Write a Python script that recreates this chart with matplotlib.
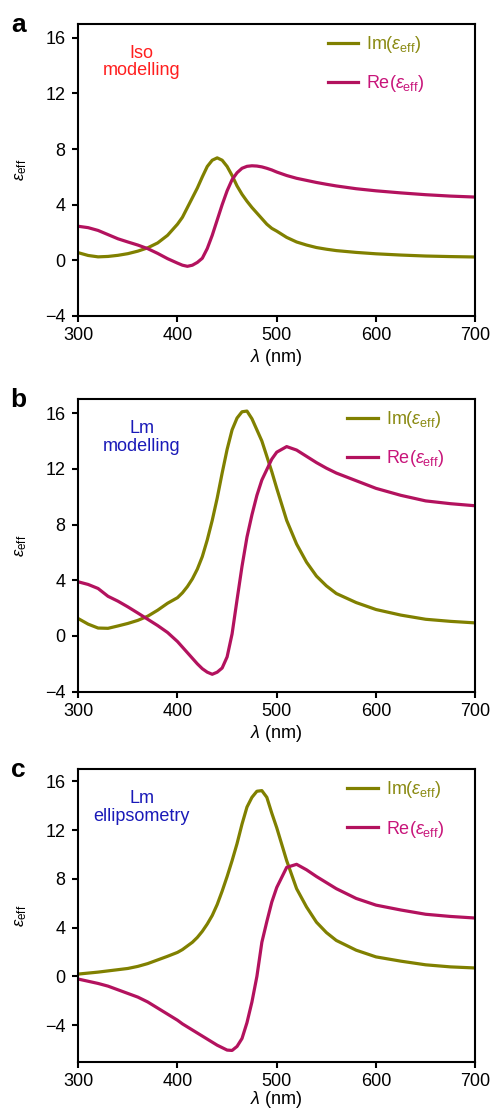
import matplotlib
matplotlib.use("Agg")
import matplotlib.pyplot as plt

plt.rcParams['font.family'] = ['Liberation Sans', 'DejaVu Sans']
plt.rcParams['mathtext.fontset'] = 'custom'
plt.rcParams['mathtext.rm'] = 'Liberation Sans'
plt.rcParams['mathtext.it'] = 'Liberation Sans:italic'
plt.rcParams['mathtext.bf'] = 'Liberation Sans:bold'

# wavelength grid (nm), shared by all panels
wl = [300, 310, 320, 330, 340, 350, 360, 370, 380, 390, 400, 405, 410, 415, 420,
      425, 430, 435, 440, 445, 450, 455, 460, 465, 470, 475, 480, 485, 490, 495,
      500, 510, 520, 530, 540, 550, 560, 580, 600, 625, 650, 675, 700]

# a - Iso modelling
im_a = [0.55, 0.35, 0.25, 0.28, 0.36, 0.48, 0.66, 0.9, 1.25, 1.8, 2.6, 3.1, 3.8, 4.5, 5.2,
        6.0, 6.75, 7.2, 7.37, 7.2, 6.75, 6.1, 5.35, 4.75, 4.25, 3.8, 3.4, 3.0, 2.6, 2.3,
        2.1, 1.65, 1.32, 1.1, 0.92, 0.8, 0.7, 0.57, 0.47, 0.38, 0.31, 0.27, 0.24]
re_a = [2.45, 2.35, 2.15, 1.85, 1.55, 1.32, 1.1, 0.84, 0.5, 0.12, -0.2, -0.35, -0.43, -0.35, -0.15,
        0.15, 0.85, 1.8, 2.9, 4.0, 5.0, 5.8, 6.3, 6.62, 6.76, 6.8, 6.78, 6.72, 6.62, 6.5,
        6.35, 6.1, 5.9, 5.75, 5.6, 5.47, 5.35, 5.15, 5.0, 4.85, 4.72, 4.62, 4.55]

# b - Lm modelling
im_b = [1.25, 0.85, 0.57, 0.55, 0.72, 0.9, 1.12, 1.42, 1.85, 2.35, 2.75, 3.1, 3.55, 4.1, 4.8,
        5.7, 6.9, 8.3, 9.9, 11.7, 13.4, 14.8, 15.65, 16.1, 16.15, 15.6, 14.8, 14.0, 12.9, 11.8,
        10.6, 8.3, 6.6, 5.3, 4.3, 3.6, 3.05, 2.4, 1.9, 1.5, 1.2, 1.05, 0.94]
re_b = [3.89, 3.7, 3.41, 2.85, 2.5, 2.09, 1.65, 1.2, 0.75, 0.25, -0.4, -0.8, -1.2, -1.6, -2.0,
        -2.35, -2.6, -2.75, -2.6, -2.3, -1.5, 0.15, 2.6, 5.0, 7.1, 8.7, 10.1, 11.2, 11.95, 12.7,
        13.2, 13.6, 13.35, 12.9, 12.45, 12.05, 11.7, 11.15, 10.6, 10.1, 9.7, 9.5, 9.35]

# c - Lm ellipsometry
im_c = [0.19, 0.27, 0.35, 0.45, 0.55, 0.65, 0.82, 1.05, 1.35, 1.65, 1.97, 2.2, 2.5, 2.8, 3.2,
        3.7, 4.3, 5.0, 5.9, 7.0, 8.2, 9.5, 10.9, 12.5, 13.9, 14.7, 15.2, 15.25, 14.7, 13.4,
        12.2, 9.5, 7.2, 5.7, 4.45, 3.6, 2.95, 2.15, 1.6, 1.25, 0.95, 0.78, 0.69]
re_c = [-0.22, -0.4, -0.58, -0.8, -1.1, -1.4, -1.7, -2.1, -2.6, -3.1, -3.6, -3.9, -4.15, -4.4, -4.65,
        -4.9, -5.15, -5.4, -5.65, -5.85, -6.05, -6.08, -5.75, -5.1, -3.8, -2.1, 0.0, 2.8, 4.5, 6.1,
        7.3, 8.95, 9.2, 8.75, 8.2, 7.7, 7.2, 6.4, 5.85, 5.45, 5.1, 4.92, 4.79]

panels = ['a', 'b', 'c']
notes = ['Iso\nmodelling', 'Lm\nmodelling', 'Lm\nellipsometry']
note_colors = ['#ff1f1f', '#1a1ab8', '#1a1ab8']
im_data = [im_a, im_b, im_c]
re_data = [re_a, re_b, re_c]
ylims = [(-4, 17), (-4, 17), (-7, 17)]
leg_x = [0.61, 0.66, 0.66]

im_col = '#808000'
re_col = '#b3125e'

fig = plt.figure(figsize=(4.92, 11.09), dpi=100)
boxes = [[0.159, 0.7151, 0.807, 0.2633],
         [0.159, 0.3763, 0.807, 0.2637],
         [0.159, 0.0427, 0.807, 0.2636]]

for i in range(3):
    ax = fig.add_axes(boxes[i])
    ax.plot(wl, im_data[i], color=im_col, lw=2.3, label=r'Im($\varepsilon_{\mathrm{eff}}$)')
    ax.plot(wl, re_data[i], color=re_col, lw=2.3, label=r'Re($\varepsilon_{\mathrm{eff}}$)')
    ax.set_xlim(300, 700)
    ax.set_ylim(*ylims[i])
    ax.set_xticks([300, 400, 500, 600, 700])
    ax.set_yticks([-4, 0, 4, 8, 12, 16])
    for s in ax.spines.values():
        s.set_linewidth(1.5)
    ax.tick_params(direction='out', length=4, width=1.5, labelsize=13, pad=5)
    ax.tick_params(axis='x', pad=4)
    # bottom panel label sits close to the figure edge
    ax.set_xlabel(r'$\lambda$ (nm)', fontsize=13, labelpad=2 if i < 2 else -0.5)
    ax.set_ylabel(r'$\varepsilon_{\mathrm{eff}}$', fontsize=12, labelpad=12)
    leg = ax.legend(loc='upper left', bbox_to_anchor=(leg_x[i], 0.99), frameon=False,
                    fontsize=13, handlelength=1.7, handletextpad=0.45, labelspacing=1.0,
                    borderaxespad=0, labelcolor=['#8a8a12', '#c8157a'])
    ax.text(0.16, 0.87, notes[i], transform=ax.transAxes, ha='center', va='center',
            fontsize=13, color=note_colors[i], linespacing=1.05)
    fig.text(0.037, boxes[i][1] + boxes[i][3] - 0.001, panels[i], fontsize=19,
             fontweight='bold', ha='center', va='center')

fig.savefig('out.png', dpi=100)
